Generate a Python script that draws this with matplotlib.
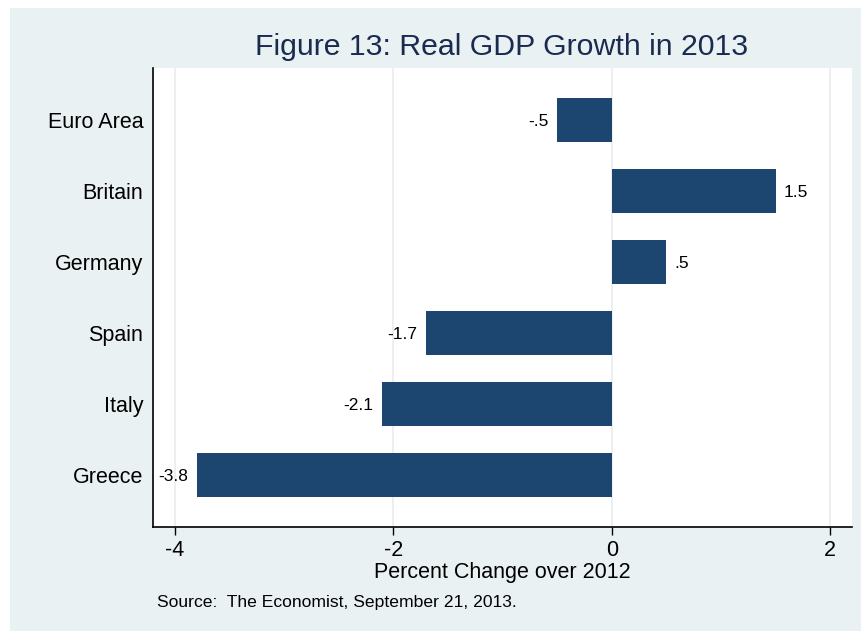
import matplotlib.pyplot as plt
from matplotlib.patches import Rectangle

countries = ["Euro Area", "Britain", "Germany", "Spain", "Italy", "Greece"]
growth = [-0.5, 1.5, 0.5, -1.7, -2.1, -3.8]
bar_labels = ["-.5", "1.5", ".5", "-1.7", "-2.1", "-3.8"]
xticks = [-4, -2, 0, 2]

plt.rcParams['font.family'] = ['Liberation Sans', 'DejaVu Sans']

bg = "#eaf1f3"
bar_color = "#1c4670"

fig = plt.figure(figsize=(8.62, 6.31), dpi=100)
fig.patch.set_facecolor("white")
# background panel (white strip along top and left edges)
fig.patches.append(Rectangle((10 / 862, 0), 1 - 10 / 862, 1 - 8 / 631, transform=fig.transFigure,
                             facecolor=bg, edgecolor="none", zorder=-10))

ax = fig.add_axes([153 / 862, 1 - 527 / 631, (852 - 153) / 862, (527 - 68) / 631])
ax.set_facecolor("white")

pos = list(range(len(countries)))
ax.barh(pos, growth, height=0.62, color=bar_color, zorder=3)
for p, v, lab in zip(pos, growth, bar_labels):
    if v < 0:
        ax.text(v - 0.08, p, lab, ha="right", va="center_baseline", fontsize=12.5, zorder=4)
    else:
        ax.text(v + 0.07, p, lab, ha="left", va="center_baseline", fontsize=12.5, zorder=4)

ax.set_xlim(-4.2, 2.2)
ax.set_ylim(5.73, -0.73)
ax.set_yticks(pos)
ax.set_yticklabels(countries, fontsize=15.5)
ax.tick_params(axis="y", length=0, pad=7)
ax.set_xticks(xticks)
ax.set_xticklabels([str(t) if t >= 0 else "-" + str(-t) for t in xticks], fontsize=15.5)
ax.tick_params(axis="x", length=6, width=1, pad=3)
ax.grid(axis="x", color="#e6eef0", linewidth=1.2, zorder=0)
for s in ["top", "right"]:
    ax.spines[s].set_visible(False)
for s in ["left", "bottom"]:
    ax.spines[s].set_linewidth(1.2)

ax.set_xlabel("Percent Change over 2012", fontsize=15.5, labelpad=1)

fig.text(502 / 862, 1 - 47 / 631, "Figure 13: Real GDP Growth in 2013", ha="center", va="center",
         fontsize=21.8, color="#1a2b50")
fig.text(157 / 862, 1 - 603 / 631, "Source:  The Economist, September 21, 2013.", ha="left",
         va="center", fontsize=12.6)

fig.savefig("out.png", dpi=100, facecolor=fig.get_facecolor())
